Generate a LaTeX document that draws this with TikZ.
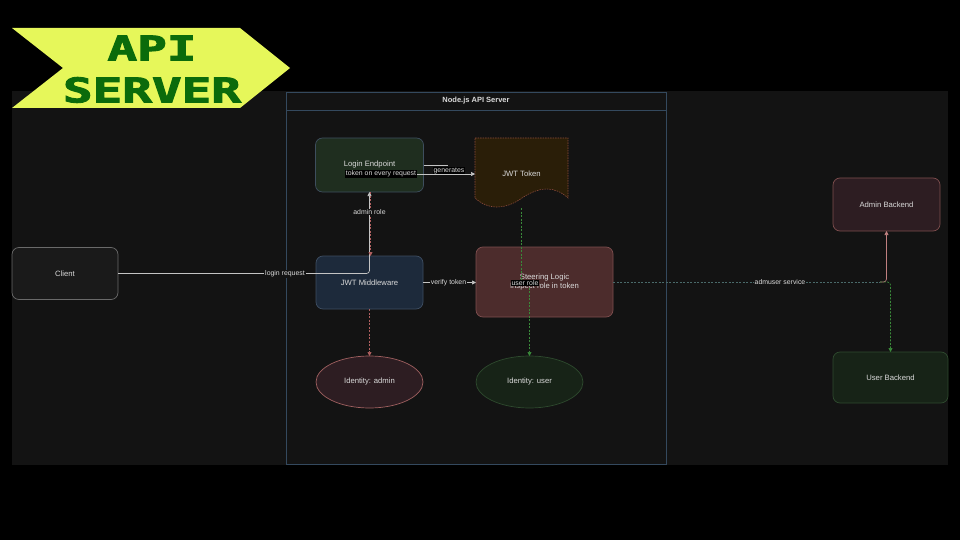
\documentclass[tikz,border=0pt]{standalone}
\usepackage{fontspec}
\setmainfont{Liberation Sans}
\newfontfamily\bannerfont[BoldFeatures={FakeBold=2.5}]{DejaVu Sans Mono}
\usetikzlibrary{arrows.meta,shapes.geometric}
\definecolor{panel}{HTML}{131313}
\definecolor{contb}{HTML}{34495E}
\definecolor{bannery}{HTML}{E6F75A}
\definecolor{bannerg}{HTML}{0B6B0B}
\definecolor{txt}{HTML}{DADADA}
\definecolor{loginfill}{HTML}{1F2E1F}
\definecolor{loginbd}{HTML}{3E4E5E}
\definecolor{jwtfill}{HTML}{2A1E08}
\definecolor{jwtbd}{HTML}{8A4A3A}
\definecolor{clientfill}{HTML}{1A1A1A}
\definecolor{clientbd}{HTML}{6A6A6A}
\definecolor{mwfill}{HTML}{1D2A3B}
\definecolor{mwbd}{HTML}{3E4E62}
\definecolor{steerfill}{HTML}{4C2C2C}
\definecolor{steerbd}{HTML}{7E4E4E}
\definecolor{admfill}{HTML}{2D1D22}
\definecolor{admbd}{HTML}{A06060}
\definecolor{usrfill}{HTML}{172317}
\definecolor{usrbd}{HTML}{2E4A2E}
\definecolor{edgew}{HTML}{C4C4C4}
\definecolor{edger}{HTML}{B06060}
\definecolor{edgeg}{HTML}{3A8A3A}
\definecolor{edget}{HTML}{4A6A6A}
\definecolor{edgep}{HTML}{C08080}
\tikzset{
  box/.style={draw, rounded corners=7pt, line width=0.7pt, inner sep=0pt, outer sep=0pt,
    text=txt, font=\fontsize{7.7}{8.8}\selectfont, align=center},
  ell/.style={draw, ellipse, line width=0.7pt, inner sep=0pt, outer sep=0pt,
    text=txt, font=\fontsize{7.7}{8.8}\selectfont},
  lbl/.style={fill=panel, inner sep=0.8pt, text=txt, font=\fontsize{6.9}{7.5}\selectfont},
  lblk/.style={fill=black, inner sep=0.8pt, text=txt, font=\fontsize{6.9}{7.5}\selectfont},
  tip/.style={-{Triangle[length=4pt,width=4pt]}},
  banner/.style={text=bannerg, font=\bannerfont\bfseries\fontsize{34}{34}\selectfont, xscale=1.45, inner sep=0pt}
}
\begin{document}
\begin{tikzpicture}[x=1pt,y=-1pt]
\useasboundingbox (0,0) rectangle (960,540);
\fill[black] (0,0) rectangle (960,540);
\fill[panel] (12,91) rectangle (948,465);
% banner
\fill[bannery] (12,28) -- (240,28) -- (290,68) -- (240,108) -- (12,108) -- (63,68) -- cycle;
\node[banner] (api) at (152,48) {API};
\node[banner] (srv) at (152,90) {SERVER};
% container
\node[draw=contb, line width=0.8pt, minimum width=380pt, minimum height=372pt, anchor=north west, inner sep=0pt, outer sep=0pt] (cont) at (286,92) {};
\draw[contb, line width=0.8pt] (286,110) -- (666,110);
\node[text=txt, font=\bfseries\fontsize{7.5}{8.5}\selectfont] (title) at (476,101) {Node.js API Server};
% nodes
\node[box, fill=loginfill, draw=loginbd, minimum width=108pt, minimum height=54pt] (login) at (369.5,165) {Login Endpoint};
\node[inner sep=0pt, outer sep=0pt, minimum width=93pt, minimum height=70pt] (jwt) at (521.5,173) {};
\filldraw[fill=jwtfill, draw=jwtbd, line width=0.6pt, dash pattern=on 1.5pt off 1pt]
  (jwt.north west) -- (jwt.north east) -- (568,198)
  .. controls (555,186) and (540,186) .. (522,198)
  .. controls (505,210) and (488,210) .. (475,198) -- cycle;
\node[text=txt, font=\fontsize{7.7}{8.8}\selectfont] (jwttxt) at (521.5,174) {JWT Token};
\node[box, fill=clientfill, draw=clientbd, minimum width=106pt, minimum height=52pt] (client) at (65,273.5) {Client};
\node[box, fill=mwfill, draw=mwbd, minimum width=107pt, minimum height=53pt] (mw) at (369.5,282.5) {JWT Middleware};
\node[box, fill=steerfill, draw=steerbd, minimum width=137pt, minimum height=70pt] (steer) at (544.5,282) {Steering Logic\\Inspect role in token};
\node[ell, fill=admfill, draw=admbd, minimum width=107pt, minimum height=52pt] (idadmin) at (369.5,382) {Identity: admin};
\node[ell, fill=usrfill, draw=usrbd, minimum width=107pt, minimum height=52pt] (iduser) at (529.5,382) {Identity: user};
\node[box, fill=admfill, draw=steerbd, minimum width=107pt, minimum height=53pt] (admin) at (886.5,204.5) {Admin Backend};
\node[box, fill=usrfill, draw=usrbd, minimum width=115pt, minimum height=51pt] (ubk) at (890.5,377.5) {User Backend};
% edges
\draw[edgew, line width=0.7pt, tip, rounded corners=3pt] (client.east) -- (client.east -| login.south) -- (login.south);
\node[lbl] (l1) at (285,274) {login request};
\draw[edger, line width=0.7pt, dash pattern=on 2pt off 1.5pt, tip] ([xshift=1pt]login.south) -- ([xshift=1pt]mw.north);
\node[lbl] (l2) at (369.5,212) {admin role};
\node[lblk] (toklbl) at (381,174) {token on every request};
\draw[edgew, line width=0.7pt, tip] (toklbl.east) -- (toklbl.east -| jwt.west);
\draw[edgew, line width=0.7pt] (login.east) -- ++(24,0);
\node[lblk] (gen) at (449,170.5) {generates};
\draw[edgew, line width=0.7pt, tip] (mw.east) -- (mw.east -| steer.west);
\node[lbl] (vt) at (448.5,283) {verify token};
\draw[edger, line width=0.7pt, dash pattern=on 2pt off 1.5pt, tip] (mw.south) -- (idadmin.north);
\draw[edgeg, line width=0.7pt, dash pattern=on 2pt off 1.5pt, tip] (jwt.south) -- (521.5,283) -- (529.5,283) -- (iduser.north);
\node[lblk] (ur) at (525,283) {user role};
\coordinate (split) at (880,282);
\draw[edget, line width=0.7pt, dash pattern=on 2pt off 1.5pt] (steer.east) -- (split);
\draw[edgep, line width=0.7pt, tip, rounded corners=3pt] (split) -- (split -| admin.south) -- (admin.south);
\draw[edgeg, line width=0.7pt, dash pattern=on 2pt off 1.5pt, tip, rounded corners=3pt] (split) -- (split -| ubk.north) -- (ubk.north);
\node[lbl] (svc) at (780,282) {admuser service};
\end{tikzpicture}
\end{document}
